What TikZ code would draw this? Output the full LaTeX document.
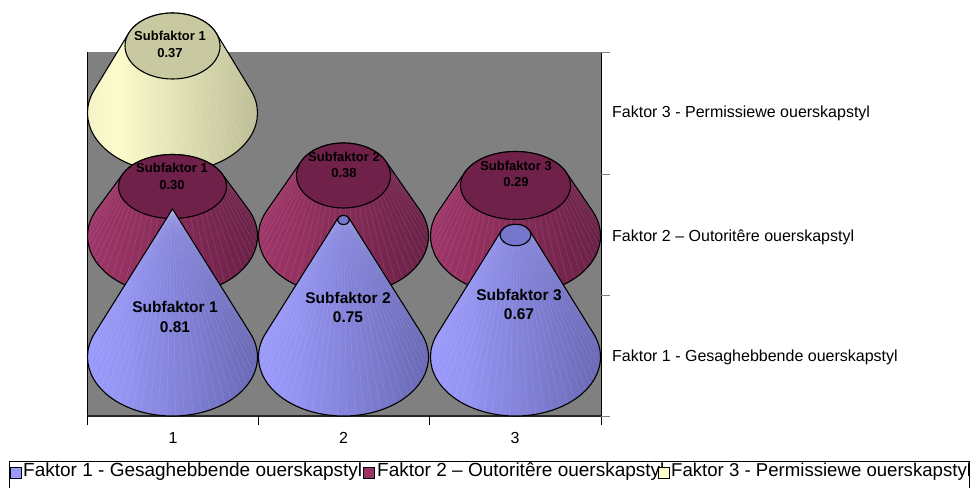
\documentclass[tikz,border=0pt]{standalone}
\usepackage{fontspec}
\setmainfont{Liberation Sans}
\usetikzlibrary{calc}
\definecolor{plotgray}{HTML}{808080}
\definecolor{bA}{HTML}{9C9CFF}
\definecolor{bB}{HTML}{9494F2}
\definecolor{bC}{HTML}{6868B4}
\definecolor{bTop}{HTML}{7676CC}
\definecolor{mA}{HTML}{A0376C}
\definecolor{mB}{HTML}{963262}
\definecolor{mC}{HTML}{682046}
\definecolor{mTop}{HTML}{70214A}
\definecolor{yA}{HTML}{F0F0C4}
\definecolor{yB}{HTML}{FCFCCC}
\definecolor{yC}{HTML}{BDBD96}
\definecolor{yTop}{HTML}{C9C9A1}
\definecolor{legBlue}{HTML}{9999FF}
\definecolor{legMaroon}{HTML}{993366}
\definecolor{legYellow}{HTML}{FFFFCC}
\pgfdeclarehorizontalshading{blueside}{100bp}{color(0bp)=(bA); color(25bp)=(bA); color(38bp)=(bB); color(75bp)=(bC); color(100bp)=(bC)}
\pgfdeclarehorizontalshading{maroonside}{100bp}{color(0bp)=(mA); color(25bp)=(mA); color(38bp)=(mB); color(75bp)=(mC); color(100bp)=(mC)}
\pgfdeclarehorizontalshading{yellowside}{100bp}{color(0bp)=(yA); color(25bp)=(yA); color(36bp)=(yB); color(75bp)=(yC); color(100bp)=(yC)}
\tikzset{
  outline/.style={draw=black, line width=1.1pt},
  facet/.style={draw=white, draw opacity=0.13, line width=0.5pt},
  bluelab/.style={font=\fontsize{15.5}{19.5}\selectfont\bfseries, align=center, inner sep=0pt},
  smalllab/.style={font=\fontsize{13}{16.5}\selectfont\bfseries, align=center, inner sep=0pt},
  sidelab/.style={font=\fontsize{16}{19}\selectfont, anchor=west, inner sep=0pt},
  catlab/.style={font=\fontsize{16}{19}\selectfont, inner sep=0pt},
  leglab/.style={font=\fontsize{19}{22}\selectfont, anchor=west, inner sep=0pt},
  legmark/.style={draw=black, line width=0.8pt, minimum size=11pt, inner sep=0pt},
  axisline/.style={draw=black, line width=1pt},
  tick/.style={draw=black, line width=0.9pt},
  gtick/.style={draw=plotgray, line width=0.9pt}
}
% #1 cx, #2 base y, #3 top y, #4 top x-radius, #5 top y-radius, #6 shading, #7 top colour, #8 draw top (1/0)
\newcommand{\frustum}[8]{%
  \pgfmathsetmacro{\kb}{59/85}%
  \pgfmathsetmacro{\Dn}{(#2-#3)/\kb}%
  \pgfmathsetmacro{\al}{asin((85-#4)/\Dn)}%
  \pgfmathsetmacro{\ca}{cos(\al)}%
  \pgfmathsetmacro{\sa}{sin(\al)}%
  \pgfmathsetmacro{\sA}{180+\al}%
  \pgfmathsetmacro{\eA}{-\al}%
  \pgfmathsetmacro{\tE}{\al-180}%
  \def\silh{({#1-#4*\ca},{#3-#5*\sa}) -- ({#1-85*\ca},{#2-59*\sa})
    arc[start angle=\sA, end angle=\eA, x radius=85, y radius=59]
    -- ({#1+#4*\ca},{#3-#5*\sa})
    arc[start angle=\eA, end angle=\tE, x radius=#4, y radius=#5] -- cycle}%
  \path[shading=#6] \silh;
  \begin{scope}
    \clip \silh;
    \foreach \t in {-20,-14,...,200} {
      \draw[facet] ([shift={(#1,#3)}]\t:#4 and #5) -- ([shift={(#1,#2)}]\t:85 and 59);
    }
  \end{scope}
  \draw[outline] \silh;
  \ifnum#8=1
    \draw[outline, fill=#7] (#1,#3) ellipse [x radius=#4, y radius=#5];
  \fi
}
\begin{document}
\begin{tikzpicture}[x=1pt, y=-1pt]
\useasboundingbox (0,0) rectangle (976,487);
\fill[white] (0,0) rectangle (976,487);
% plot area
\fill[plotgray] (87,52) rectangle (601,416);
\draw[axisline] (87,52) -- (87,416);
\draw[axisline] (601,52) -- (601,425);
\draw[draw=black!85, line width=1.8pt] (87,416) -- (601,416);
\foreach \xx in {87,258,429.5,601} \draw[tick] (\xx,416) -- (\xx,425);
\foreach \yy in {52,174,295,416} \draw[gtick] (601,\yy) -- (610,\yy);
% Faktor 3 (back row)
\frustum{172.5}{113}{46}{47.5}{33}{yellowside}{yTop}{1}
% Faktor 2 (middle row)
\frustum{172.5}{236}{186.5}{54}{32}{maroonside}{mTop}{1}
\frustum{343.5}{236}{175.5}{47}{32.5}{maroonside}{mTop}{1}
\frustum{515.5}{236}{185.5}{55}{34}{maroonside}{mTop}{1}
% Faktor 1 (front row)
\frustum{172.5}{357}{209}{0.01}{0.01}{blueside}{bTop}{0}
\frustum{343.5}{357}{220}{6}{4.5}{blueside}{bTop}{1}
\frustum{515.5}{357}{235}{15.5}{10.7}{blueside}{bTop}{1}
% cone labels
\node[smalllab] (y1) at (170,44.5) {Subfaktor 1\\0.37};
\node[smalllab] (m1) at (172,176.5) {Subfaktor 1\\0.30};
\node[smalllab] (m2) at (344,165) {Subfaktor 2\\0.38};
\node[smalllab] (m3) at (516,174) {Subfaktor 3\\0.29};
\node[bluelab] (b1) at (175,317) {Subfaktor 1\\0.81};
\node[bluelab] (b2) at (348,307.5) {Subfaktor 2\\0.75};
\node[bluelab] (b3) at (519,304.5) {Subfaktor 3\\0.67};
% depth axis labels
\node[sidelab] (s3) at (612,113) {Faktor 3 - Permissiewe ouerskapstyl};
\node[sidelab] (s2) at (612,237) {Faktor 2 – Outoritêre ouerskapstyl};
\node[sidelab] (s1) at (612,357) {Faktor 1 - Gesaghebbende ouerskapstyl};
% category labels
\node[catlab] (c1) at (173,438) {1};
\node[catlab] (c2) at (343.5,438) {2};
\node[catlab] (c3) at (515,438) {3};
% legend
\node[leglab] (l1) at (23,472) {Faktor 1 - Gesaghebbende ouerskapstyl};
\node[legmark, fill=legMaroon] (k2) at (369,473) {};
\node[leglab] (l2) at (377,472) {Faktor 2 – Outoritêre ouerskapstyl};
\node[legmark, fill=legYellow] (k3) at (664,473) {};
\node[leglab, font=\fontsize{18.6}{22}\selectfont] (l3) at (671,472) {Faktor 3 - Permissiewe ouerskapstyl};
\node[legmark, fill=legBlue] (k1) at (16,473) {};
\draw[black, line width=0.8pt] (9,490) -- (9,461) -- (969,461) -- (969,490);
\end{tikzpicture}
\end{document}
